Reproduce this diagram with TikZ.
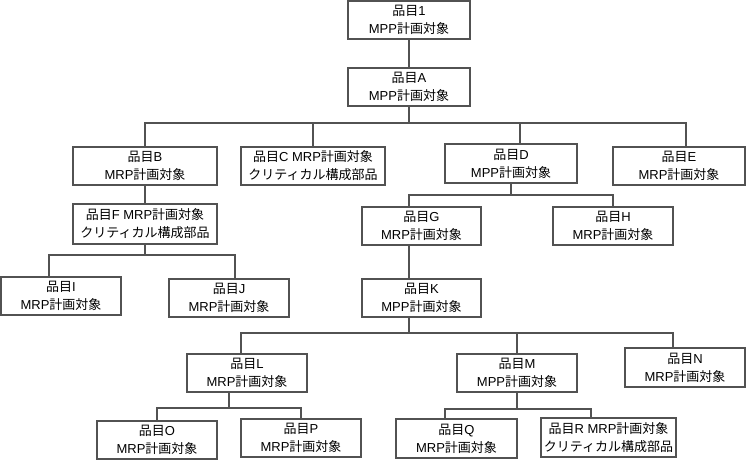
\documentclass[tikz,border=0pt]{standalone}
\usepackage{fontspec}
\setmainfont{Liberation Sans}
\newfontfamily\cjkfont{Noto Sans CJK JP}
\newcommand\J[1]{{\cjkfont #1}}
\begin{document}
\begin{tikzpicture}[x=1pt,y=-1pt,
  box/.style={draw=black!68, line width=1.1pt, inner sep=0pt, align=center,
    font=\fontsize{13}{18}\selectfont, text=black},
  link/.style={draw=black!68, line width=1.1pt}]
\useasboundingbox (0,0) rectangle (746,460);
\node[box, minimum width=122pt, minimum height=38pt] (n1) at (409,20) {\J{品目}1\\MPP\J{計画対象}};
\node[box, minimum width=122pt, minimum height=38pt] (A) at (409,87) {\J{品目}A\\MPP\J{計画対象}};
\node[box, minimum width=144pt, minimum height=38pt] (B) at (145,166) {\J{品目}B\\MRP\J{計画対象}};
\node[box, minimum width=144pt, minimum height=38pt] (C) at (313,166) {\J{品目}C MRP\J{計画対象}\\\J{クリティカル構成部品}};
\node[box, minimum width=132pt, minimum height=39pt] (D) at (511,163.5) {\J{品目}D\\MPP\J{計画対象}};
\node[box, minimum width=132pt, minimum height=38pt] (E) at (679,166) {\J{品目}E\\MRP\J{計画対象}};
\node[box, minimum width=144pt, minimum height=40pt] (F) at (145,224) {\J{品目}F MRP\J{計画対象}\\\J{クリティカル構成部品}};
\node[box, minimum width=119pt, minimum height=38pt] (G) at (421.5,226) {\J{品目}G\\MRP\J{計画対象}};
\node[box, minimum width=120pt, minimum height=38pt] (H) at (613,226) {\J{品目}H\\MRP\J{計画対象}};
\node[box, minimum width=120pt, minimum height=38pt] (I) at (61,296) {\J{品目}I\\MRP\J{計画対象}};
\node[box, minimum width=120pt, minimum height=38pt] (Jn) at (229,298) {\J{品目}J\\MRP\J{計画対象}};
\node[box, minimum width=119pt, minimum height=38pt] (K) at (421.5,298) {\J{品目}K\\MPP\J{計画対象}};
\node[box, minimum width=120pt, minimum height=38pt] (L) at (247,373) {\J{品目}L\\MRP\J{計画対象}};
\node[box, minimum width=120pt, minimum height=38pt] (M) at (517,373) {\J{品目}M\\MPP\J{計画対象}};
\node[box, minimum width=120pt, minimum height=39pt] (N) at (685,367.5) {\J{品目}N\\MRP\J{計画対象}};
\node[box, minimum width=120pt, minimum height=38pt] (O) at (157,440) {\J{品目}O\\MRP\J{計画対象}};
\node[box, minimum width=120pt, minimum height=38pt] (P) at (301,438) {\J{品目}P\\MRP\J{計画対象}};
\node[box, minimum width=121pt, minimum height=39pt] (Q) at (456.5,438.5) {\J{品目}Q\\MRP\J{計画対象}};
\node[box, minimum width=135pt, minimum height=39pt] (R) at (608.5,437.5) {\J{品目}R MRP\J{計画対象}\\\J{クリティカル構成部品}};
\coordinate (busA) at (0,123);
\coordinate (busD) at (0,195);
\coordinate (busF) at (0,255);
\coordinate (busK) at (0,333);
\coordinate (busL) at (0,408);
\coordinate (busM) at (0,409);
% connectors
\draw[link] (n1.south) -- (A.north);
\draw[link] (A.south) -- (A.south |- busA) -| (B.north);
\draw[link] (A.south |- busA) -| (C.north);
\draw[link] (A.south |- busA) -| ([xshift=9pt]D.north);
\draw[link] (A.south |- busA) -| ([xshift=7pt]E.north);
\draw[link] (B.south) -- (F.north);
\draw[link] (F.south) -- (F.south |- busF) -| ([xshift=-12pt]I.north);
\draw[link] (F.south |- busF) -| ([xshift=6pt]Jn.north);
\draw[link] (D.south) -- (D.south |- busD) -| ([xshift=-12.5pt]G.north);
\draw[link] (D.south |- busD) -| (H.north);
\draw[link] ([xshift=-12.5pt]G.south) -- ([xshift=-12.5pt]K.north);
\draw[link] ([xshift=-12.5pt]K.south) -- ([xshift=-12.5pt]K.south |- busK) -| ([xshift=-6pt]L.north);
\draw[link] ([xshift=-12.5pt]K.south |- busK) -| (M.north);
\draw[link] ([xshift=-12.5pt]K.south |- busK) -| ([xshift=-12pt]N.north);
\draw[link] ([xshift=-18pt]L.south) -- ([xshift=-18pt]L.south |- busL) -| (O.north);
\draw[link] ([xshift=-18pt]L.south |- busL) -| (P.north);
\draw[link] (M.south) -- (M.south |- busM) -| ([xshift=-11.5pt]Q.north);
\draw[link] (M.south |- busM) -| ([xshift=-17.5pt]R.north);
\end{tikzpicture}
\end{document}
